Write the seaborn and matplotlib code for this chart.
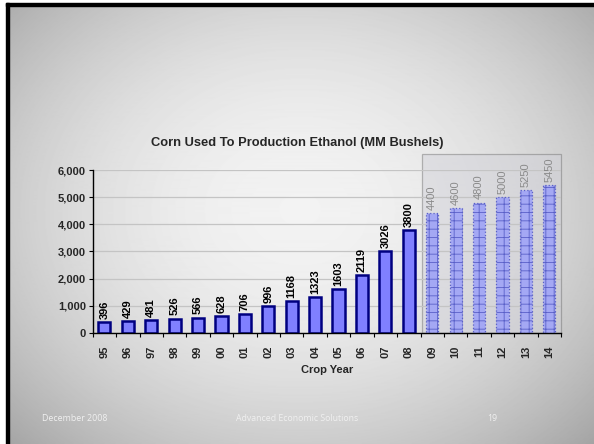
import numpy as np
import matplotlib
matplotlib.use("Agg")
import matplotlib.pyplot as plt
import seaborn as sns
import pandas as pd
from matplotlib.patches import Rectangle

years = ["95", "96", "97", "98", "99", "00", "01", "02", "03", "04",
         "05", "06", "07", "08", "09", "10", "11", "12", "13", "14"]
values = [396, 429, 481, 526, 566, 628, 706, 996, 1168, 1323,
          1603, 2119, 3026, 3800, 4400, 4600, 4800, 5000, 5250, 5450]
is_forecast = [False] * 14 + [True] * 6
yticks = [0, 1000, 2000, 3000, 4000, 5000, 6000]
title = "Corn Used To Production Ethanol (MM Bushels)"
xlabel = "Crop Year"
footer_left = "December 2008"
footer_mid = "Advanced Economic Solutions"
footer_right = "19"

sns.set_theme(style="white")
plt.rcParams['font.family'] = ['Liberation Sans', 'DejaVu Sans']
plt.rcParams['hatch.color'] = '#eeeeff'
plt.rcParams['hatch.linewidth'] = 0.6

W, H = 594, 444
fig = plt.figure(figsize=(W / 100, H / 100), dpi=100)

# background radial gradient
bg = fig.add_axes([0, 0, 1, 1])
yy, xx = np.mgrid[0:H, 0:W]
r2 = ((xx - 300) / 420.0) ** 2 + ((yy - 210) / 340.0) ** 2
g = np.clip(0.95 - 0.32 * r2, 0.55, 1)
bg.imshow(g, cmap="gray", vmin=0, vmax=1, extent=[0, W, H, 0], aspect="auto")
bg.set_xlim(0, W)
bg.set_ylim(H, 0)
bg.axis("off")
bg.add_patch(Rectangle((0, 0), 6, H, color="white"))
bg.add_patch(Rectangle((0, 0), W, 3, color="white"))
bg.add_patch(Rectangle((6, 3), 3, H, color="black"))
bg.add_patch(Rectangle((6, 3), W, 3, color="black"))
ffam = ['Open Sans', 'DejaVu Sans']
bg.text(42, 418, footer_left, color="#f0f0f0", fontsize=6.3, va="center", ha="left", family=ffam)
bg.text(297, 418, footer_mid, color="#f0f0f0", fontsize=6.3, va="center", ha="center", family=ffam)
bg.text(492, 418, footer_right, color="#f0f0f0", fontsize=6.3, va="center", ha="center", family=ffam)

# main axes: left 92.7, right 561, top 170, bottom 333 (pixels)
ax = fig.add_axes([92.7 / W, 1 - 333 / H, (561 - 92.7) / W, (333 - 170) / H])
ax.patch.set_alpha(0)

df = pd.DataFrame({"year": years, "value": values})
sns.barplot(data=df, x="year", y="value", ax=ax, width=0.52,
            color="#8080ff", saturation=1, edgecolor="#000080", linewidth=1.8)

for p, fc in zip(ax.patches, is_forecast):
    if fc:
        p.set_facecolor("#a4a8f4")
        p.set_edgecolor("#5a60c8")
        p.set_linewidth(0.9)
        p.set_linestyle(":")
        p.set_hatch("++")

ax.set_xlim(-0.5, 19.5)
ax.set_ylim(0, 6000)
ax.set_yticks(yticks)
ax.set_yticklabels([f"{v:,}" for v in yticks], fontsize=8, fontweight="bold")
ax.yaxis.grid(True, color="#c4c4c4", linewidth=0.9)
ax.set_axisbelow(True)
ax.set_xticks(range(len(years)))
ax.set_xticklabels(years, rotation=90, fontsize=8, fontweight="bold")
ax.tick_params(axis="x", length=0, pad=9)
ax.tick_params(axis="y", length=3, width=0.8, color="black", left=True, pad=2)
# category boundary ticks
ax.set_xticks(np.arange(-0.5, 20, 1), minor=True)
ax.tick_params(axis="x", which="minor", length=3, width=0.8, color="black", bottom=True)
for s in ["top", "right"]:
    ax.spines[s].set_visible(False)
for s in ["left", "bottom"]:
    ax.spines[s].set_color("black")
    ax.spines[s].set_linewidth(1)

ax.set_xlabel(xlabel, fontsize=8, fontweight="bold", labelpad=5)
ax.set_ylabel("")

# forecast box
ax.add_patch(Rectangle((13.55, 0), 19.5 - 13.55, 6590, facecolor="#d0d0d8", alpha=0.45,
                       edgecolor="#6a6a6a", linewidth=0.9, clip_on=False, zorder=0.5))

for i, (v, fc) in enumerate(zip(values, is_forecast)):
    if fc:
        ax.text(i, v + 120, str(v), rotation=90, ha="center", va="bottom",
                fontsize=8, color="#8a8a8a", clip_on=False)
    else:
        ax.text(i, v + 120, str(v), rotation=90, ha="center", va="bottom",
                fontsize=8, fontweight="bold", color="black")

fig.text(297 / W, 1 - 143 / H, title, ha="center", va="center",
         fontsize=9.3, fontweight="bold")

fig.savefig("out.png", dpi=100)
